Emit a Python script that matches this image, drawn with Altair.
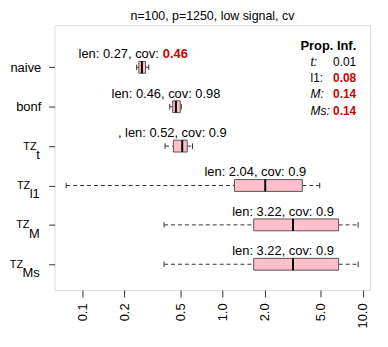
import json
import altair as alt
import pandas as pd

# ---- data ----
methods = ["naive", "bonf", "TZ_t", "TZ_l1", "TZ_M", "TZ_Ms"]
tick_base = ["naive", "bonf", "TZ", "TZ", "TZ", "TZ"]
tick_sub = ["", "", "t", "l1", "M", "Ms"]
whisk_lo = [0.244, 0.42, 0.389, 0.0767, 0.383, 0.383]
q1 = [0.253, 0.441, 0.446, 1.217, 1.67, 1.67]
med = [0.266, 0.465, 0.516, 2.018, 3.184, 3.184]
q3 = [0.2825, 0.4996, 0.56, 3.712, 6.74, 6.74]
whisk_hi = [0.298, 0.508, 0.611, 4.94, 9.29, 9.29]
len_labels = ["0.27", "0.46", "0.52", "2.04", "3.22", "3.22"]
cov_labels = ["0.46", "0.98", "0.9", "0.9", "0.9", "0.9"]
label_lead = ["", "", ", ", "", "", ""]
prop_names = ["t:", "l1:", "M:", "Ms:"]
prop_italic = [True, False, True, True]
prop_values = ["0.01", "0.08", "0.14", "0.14"]
x_ticks = [0.1, 0.2, 0.5, 1, 2, 5, 10]
title_text = "n=100, p=1250, low signal, cv"

FONT = "Liberation Sans"
RED = "#CD0000"
PINK = "#FFC0CB"

rows = list(range(1, len(methods) + 1))
df = pd.DataFrame({
    "method": methods, "row": rows, "lo": whisk_lo, "q1": q1, "med": med,
    "q3": q3, "hi": whisk_hi, "len": len_labels, "cov": cov_labels,
    "lead": label_lead, "base": tick_base, "sub": tick_sub,
})
df["red"] = df["cov"].astype(float) < 0.8
df["prefix"] = df["lead"] + "len: " + df["len"] + ", cov:"
df["full"] = df["lead"] + "len: " + df["len"] + ", cov: " + df["cov"]

xscale = alt.Scale(type="log", domain=[0.0634, 11.3], nice=False, zero=False)
yscale = alt.Scale(domain=[-0.07, 6.655], reverse=True, nice=False, zero=False)

axis_labels = [b if not s else "" for b, s in zip(tick_base, tick_sub)]
x_axis = alt.Axis(values=x_ticks, format=".1f", labelAngle=270, tickSize=7,
                  labelPadding=6, labelFontSize=13, labelColor="black",
                  tickColor="#333", domain=False, grid=False, title=None,
                  labelFont=FONT)
y_axis = alt.Axis(values=rows, labelExpr=f"{json.dumps(axis_labels)}[datum.value - 1]",
                  tickSize=6, labelPadding=8, labelFontSize=13, labelColor="black",
                  tickColor="#333", domain=False, grid=False, title=None,
                  labelFont=FONT)

base = alt.Chart(df).transform_calculate(
    box_top="datum.row - 0.15", box_bot="datum.row + 0.15",
    cap_top="datum.row - 0.07", cap_bot="datum.row + 0.07",
    lab_y="datum.row - 0.33",
)

X = lambda f: alt.X(f"{f}:Q", scale=xscale, axis=x_axis)
Y = lambda f: alt.Y(f"{f}:Q", scale=yscale, axis=y_axis)

WH = "#333"
wl = base.mark_rule(color=WH, strokeDash=[4, 3], strokeWidth=1).encode(
    x=X("lo"), x2="q1:Q", y=Y("row"))
wr = base.mark_rule(color=WH, strokeDash=[4, 3], strokeWidth=1).encode(
    x=X("q3"), x2="hi:Q", y=Y("row"))
cl = base.mark_rule(color=WH, strokeWidth=1).encode(
    x=X("lo"), y=Y("cap_top"), y2="cap_bot:Q")
ch = base.mark_rule(color=WH, strokeWidth=1).encode(
    x=X("hi"), y=Y("cap_top"), y2="cap_bot:Q")
box = base.mark_rect(fill=PINK, stroke="#555", strokeWidth=1).encode(
    x=X("q1"), x2="q3:Q", y=Y("box_top"), y2="box_bot:Q")
mline = base.mark_rule(color="black", strokeWidth=2).encode(
    x=X("med"), y=Y("box_top"), y2="box_bot:Q")

ann = base.transform_filter("!datum.red").mark_text(
    align="center", baseline="middle", dx=-10, fontSize=13, font=FONT, color="black"
).encode(x=X("med"), y=Y("lab_y"), text="full:N")
ann_pre = base.transform_filter("datum.red").mark_text(
    align="right", baseline="middle", dx=17, fontSize=13, font=FONT, color="black"
).encode(x=X("med"), y=Y("lab_y"), text="prefix:N")
ann_red = base.transform_filter("datum.red").mark_text(
    align="left", baseline="middle", dx=21, fontSize=13, font=FONT, color=RED,
    fontWeight="bold"
).encode(x=X("med"), y=Y("lab_y"), text="cov:N")

# y tick labels with subscripts
char_w = {"t": 0.278, "l": 0.222, "1": 0.556, "M": 0.833, "s": 0.5}
SUB_SIZE = 13
label_right = -15
ylab_layers = []
sub_layer = base.transform_filter("datum.sub != ''").mark_text(
    align="right", baseline="alphabetic", dy=13, fontSize=SUB_SIZE, font=FONT,
    color="black"
).encode(x=alt.value(label_right), y=Y("row"), text="sub:N")
ylab_layers.append(sub_layer)
for m, s in zip(methods, tick_sub):
    if not s:
        continue
    w = sum(char_w.get(c, 0.55) for c in s) * SUB_SIZE
    ylab_layers.append(
        base.transform_filter(alt.datum.method == m).mark_text(
            align="right", baseline="alphabetic", dy=3.5, dx=-w + 0.5,
            fontSize=11, font=FONT, color="black"
        ).encode(x=alt.value(label_right), y=Y("row"), text="base:N")
    )

# Prop. Inf. legend
leg_top, leg_step = 0.46, 0.41
leg_x_left, leg_x_right = 4.25, 9.0
pdf = pd.DataFrame({"name": prop_names, "val": prop_values, "italic": prop_italic})
pdf["y"] = [leg_top + (i + 1) * leg_step for i in range(len(pdf))]
pdf["lx"] = leg_x_left
pdf["rx"] = leg_x_right
pdf["hi"] = pdf["val"].astype(float) > 0.05
pbase = alt.Chart(pdf)
LFS = 12
leg_title = alt.Chart(pd.DataFrame({"t": ["Prop. Inf."], "x": [leg_x_right], "y": [leg_top]})).mark_text(
    align="right", baseline="middle", fontSize=13, fontWeight="bold", font=FONT, color="black"
).encode(x=X("x"), y=Y("y"), text="t:N")
leg_names_i = pbase.transform_filter("datum.italic").mark_text(
    align="left", baseline="middle", fontSize=LFS, fontStyle="italic", font=FONT, color="black"
).encode(x=X("lx"), y=Y("y"), text="name:N")
leg_names_n = pbase.transform_filter("!datum.italic").mark_text(
    align="left", baseline="middle", fontSize=LFS, font=FONT, color="black"
).encode(x=X("lx"), y=Y("y"), text="name:N")
leg_vals_hi = pbase.transform_filter("datum.hi").mark_text(
    align="right", baseline="middle", fontSize=LFS, fontWeight="bold", font=FONT, color=RED
).encode(x=X("rx"), y=Y("y"), text="val:N")
leg_vals_lo = pbase.transform_filter("!datum.hi").mark_text(
    align="right", baseline="middle", fontSize=LFS, font=FONT, color="black"
).encode(x=X("rx"), y=Y("y"), text="val:N")

chart = alt.layer(
    wl, wr, cl, ch, box, mline, ann, ann_pre, ann_red, *ylab_layers,
    leg_title, leg_names_i, leg_names_n, leg_vals_hi, leg_vals_lo
).properties(
    width=318, height=267,
    title=alt.TitleParams(title_text, fontSize=12.5, fontWeight="normal", font=FONT,
                          color="black", offset=3),
    autosize=alt.AutoSizeParams(type="none"),
    padding={"left": 47, "top": 16, "right": 10, "bottom": 48},
).configure_view(stroke="#333", strokeWidth=1).configure(background="white")

chart.save("out.html", embed_options={"renderer": "svg", "actions": False})
